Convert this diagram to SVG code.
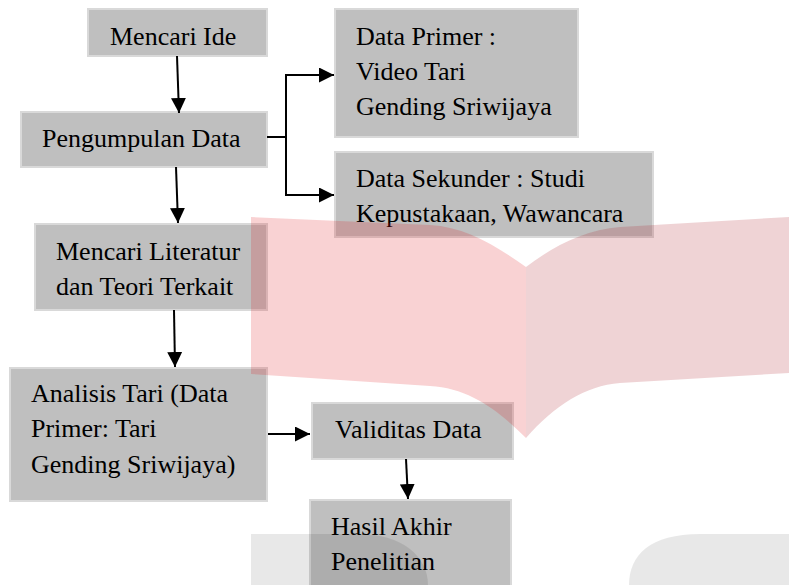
<svg xmlns="http://www.w3.org/2000/svg" width="789" height="585" viewBox="0 0 789 585">
<style>
.box{fill:#bfbfbf;stroke:#d9d9d9;stroke-width:2}
.t{font-family:"Liberation Serif","Times New Roman",serif;font-size:26px;fill:#000}
.c{fill:none;stroke:#000;stroke-width:2}
</style>
<defs>
<marker id="ah" viewBox="0 0 15 15" refX="15" refY="7.5" markerWidth="15" markerHeight="15" markerUnits="userSpaceOnUse" orient="auto">
<path d="M0,0 L15,7.5 L0,15 Z" fill="#000"/>
</marker>
</defs>
<rect width="789" height="585" fill="#fff"/>
<g id="n1"><rect class="box" x="88" y="9" width="179" height="47"/><text class="t" x="110" y="45">Mencari Ide</text></g>
<g id="n2"><rect class="box" x="21" y="112" width="246" height="55"/><text class="t" x="42" y="147">Pengumpulan Data</text></g>
<g id="n3"><rect class="box" x="35" y="224" width="232" height="86"/><text class="t" x="56" y="260">Mencari Literatur</text><text class="t" x="56" y="295">dan Teori Terkait</text></g>
<g id="n4"><rect class="box" x="335" y="9" width="243" height="128"/><text class="t" x="356" y="45">Data Primer :</text><text class="t" x="356" y="80">Video Tari</text><text class="t" x="356" y="115">Gending Sriwijaya</text></g>
<g id="n5"><rect class="box" x="335" y="152" width="318" height="85"/><text class="t" x="356" y="187">Data Sekunder : Studi</text><text class="t" x="356" y="222">Kepustakaan, Wawancara</text></g>
<g id="n6"><rect class="box" x="10" y="368" width="257" height="133"/><text class="t" x="31" y="402">Analisis Tari (Data</text><text class="t" x="31" y="437">Primer: Tari</text><text class="t" x="31" y="473">Gending Sriwijaya)</text></g>
<g id="n7"><rect class="box" x="312" y="403" width="201" height="56"/><text class="t" x="335" y="438">Validitas Data</text></g>
<g id="n8"><rect class="box" x="310" y="500" width="201" height="95"/><text class="t" x="331" y="535">Hasil Akhir</text><text class="t" x="331" y="570">Penelitian</text></g>
<g id="connectors">
<path class="c" d="M177,56 L179,113" marker-end="url(#ah)"/>
<path class="c" d="M176,167 L178,223" marker-end="url(#ah)"/>
<path class="c" d="M267,137 H286"/>
<path class="c" d="M286,195 V75 H334" marker-end="url(#ah)"/>
<path class="c" d="M286,137 V195 H334" marker-end="url(#ah)"/>
<path class="c" d="M174,310 L175,367" marker-end="url(#ah)"/>
<path class="c" d="M268,434 H310" marker-end="url(#ah)"/>
<path class="c" d="M406,459 L408,499" marker-end="url(#ah)"/>
</g>
<g id="watermark">
<path d="M251,217 L430,225 C465,227 495,245 526,267 L526,438 C500,412 470,388 430,386 L251,374 Z" fill="#e31e24" fill-opacity="0.2"/>
<path d="M526,267 C555,245 585,230 620,227 L789,217 L789,373 L620,383 C585,386 555,405 526,438 Z" fill="#af232d" fill-opacity="0.2"/>
<path d="M251,534 L360,534 C400,534 428,555 428,585 L251,585 Z" fill="#000" fill-opacity="0.09"/>
<path d="M629,585 C629,555 650,534 700,534 L789,534 L789,585 Z" fill="#000" fill-opacity="0.09"/>
</g>
</svg>
